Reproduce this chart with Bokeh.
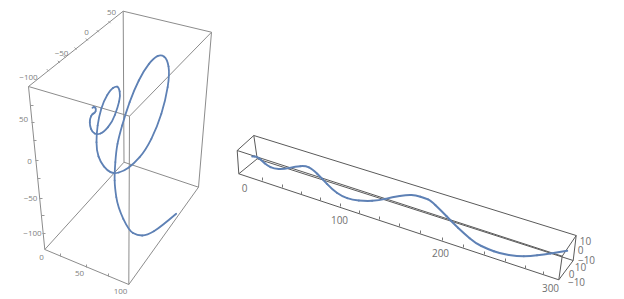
from bokeh.plotting import figure
from bokeh.models import Range1d
from bokeh.core.properties import value
from bokeh.embed import file_html
from bokeh.resources import INLINE

# Projected curve readings, in picture pixels
helix_left_x = [92.0,94.3,95.7,94.3,91.7,89.3,89.3,91.7,96.7,103.3,111.7,117.3,120.0,118.3,115.0,110.0,103.3,98.3,96.0,96.0,100.0,106.7,113.3,123.3,133.3,145.0,156.7,165.0,169.3,166.7,160.7,153.3,143.3,133.3,125.0,118.3,115.7,114.0,114.3,117.3,128.3,136.7,146.7,160.0,175.7]
helix_left_y = [107.3,106.0,109.3,112.7,113.3,118.3,125.0,131.7,134.3,131.7,121.7,106.7,95.0,86.7,85.7,89.3,100.0,116.7,133.3,150.0,161.7,170.0,173.3,170.7,163.3,150.0,126.7,100.0,73.3,58.3,54.0,57.3,70.0,90.0,113.3,136.7,150.0,173.3,186.7,206.7,230.0,235.0,235.0,226.7,213.3]
helix_right_x = [251.7,256.7,261.7,266.7,273.3,283.3,295.0,305.0,311.7,321.7,331.7,341.7,351.7,365.0,378.3,391.7,406.7,415.0,425.0,430.0,440.0,451.7,463.3,475.0,486.7,500.0,516.7,530.0,543.3,556.7,566.7]
helix_right_y = [156.0,156.0,160.7,165.0,168.3,168.7,166.0,165.3,168.3,178.3,189.0,196.0,199.3,200.7,200.0,196.7,194.3,194.7,197.7,200.0,209.3,221.7,232.7,242.7,248.3,253.3,255.7,255.7,254.0,252.0,250.3]

# Box edges as (x0, y0, x1, y1)
box_left = [
    (28,86,122.7,10.7),(122.7,10.7,211,31.7),(211,31.7,129,115.7),(129,115.7,28,86),
    (44.3,249,123.5,161.7),(123.5,161.7,198,186.7),(198,186.7,128.3,284),(128.3,284,44.3,249),
    (28,86,44.3,249),(122.7,10.7,123.5,161.7),(211,31.7,198,186.7),(129,115.7,128.3,284),
]
box_right = [
    (253.3,135,236.7,150),(236.7,150,238.3,173.3),(238.3,173.3,256.7,158.3),(256.7,158.3,253.3,135),
    (575.7,235,561.7,255.7),(561.7,255.7,558.3,279.3),(558.3,279.3,572.7,260),(572.7,260,575.7,235),
    (253.3,135,575.7,235),(236.7,150,561.7,255.7),(238.3,173.3,558.3,279.3),(256.7,158.3,572.7,260),
]

labels_left = ["\u2212100","\u221250","0","50","50","0","\u221250","\u2212100","0","50","100"]
labels_left_x = [28,61,86,111,23,29,30,32,41,79,120]
labels_left_y = [77,53,32,12,119,161,198,233,257,273,291]
labels_right = ["0","100","200","300","10","0","\u221210","10","0","\u221210"]
labels_right_x = [244,339,440,550,585,580,586,580,571,576]
labels_right_y = [187,219,252,287,240,249,259,266,273,281]

ticks_left_edge = [(48.3,70.7),(59.3,62.3),(65,57.3),(76,49),(87.3,40),(98.3,31.7),(110,22.7)]
ticks_left_vert = [(30,105),(31,122),(33,140),(35,160),(37,178),(39,198),(41,215),(42,233)]
ticks_left_base = [(60,256),(86,267),(108,276)]
ticks_right_base = [(262,180),(282,187),(301,194),(320,200),(340,206),(359,213),(379,219),(399,226),(420,233),(442,240),(463,247),(484,254),(505,261),(525,268),(543,274)]

COLOR_CURVE = "#5E81B5"
p = figure(width=624, height=299, x_range=Range1d(0,624), y_range=Range1d(299,0),
           output_backend="svg", toolbar_location=None, min_border=0)
p.axis.visible = False
p.grid.visible = False
p.outline_line_color = None

def edges(e, color, w):
    p.segment([a[0] for a in e],[a[1] for a in e],[a[2] for a in e],[a[3] for a in e],line_color=color,line_width=w)

def smooth(xs, ys, w):
    # Read points act as control points of quadratic pieces, with ends at the midpoints.
    mx = [(a+b)/2 for a,b in zip(xs,xs[1:])]
    my = [(a+b)/2 for a,b in zip(ys,ys[1:])]
    x0 = [xs[0]] + mx[:-1]; y0 = [ys[0]] + my[:-1]
    x1 = mx[:-1] + [xs[-1]]; y1 = my[:-1] + [ys[-1]]
    p.quadratic(x0, y0, x1, y1, xs[:-1] if False else xs[0:1]+xs[1:-1], ys[0:1]+ys[1:-1],
                line_color=COLOR_CURVE, line_width=w, line_cap="round")

edges(box_left, "#8c8c8c", 1)
edges(box_right, "#5a5a5a", 1)
p.segment([x for x,y in ticks_left_edge],[y for x,y in ticks_left_edge],[x-2 for x,y in ticks_left_edge],[y-2 for x,y in ticks_left_edge],line_color="#999999")
p.segment([x for x,y in ticks_left_vert],[y for x,y in ticks_left_vert],[x+3 for x,y in ticks_left_vert],[y for x,y in ticks_left_vert],line_color="#999999")
p.segment([x for x,y in ticks_left_base],[y for x,y in ticks_left_base],[x for x,y in ticks_left_base],[y-3 for x,y in ticks_left_base],line_color="#999999")
p.segment([x for x,y in ticks_right_base],[y for x,y in ticks_right_base],[x for x,y in ticks_right_base],[y-3 for x,y in ticks_right_base],line_color="#777777")

smooth(helix_left_x, helix_left_y, 1.8)
smooth(helix_right_x, helix_right_y, 2)

p.text(labels_left_x, labels_left_y, text=labels_left, text_font=value("Open Sans"), text_font_size="8px",
       text_align="center", text_baseline="middle", text_color="#808080")
p.text(labels_right_x, labels_right_y, text=labels_right, text_font=value("Open Sans"), text_font_size="10px",
       text_align="center", text_baseline="middle", text_color="#707070")

open("out.html","w").write(file_html(p, INLINE))
